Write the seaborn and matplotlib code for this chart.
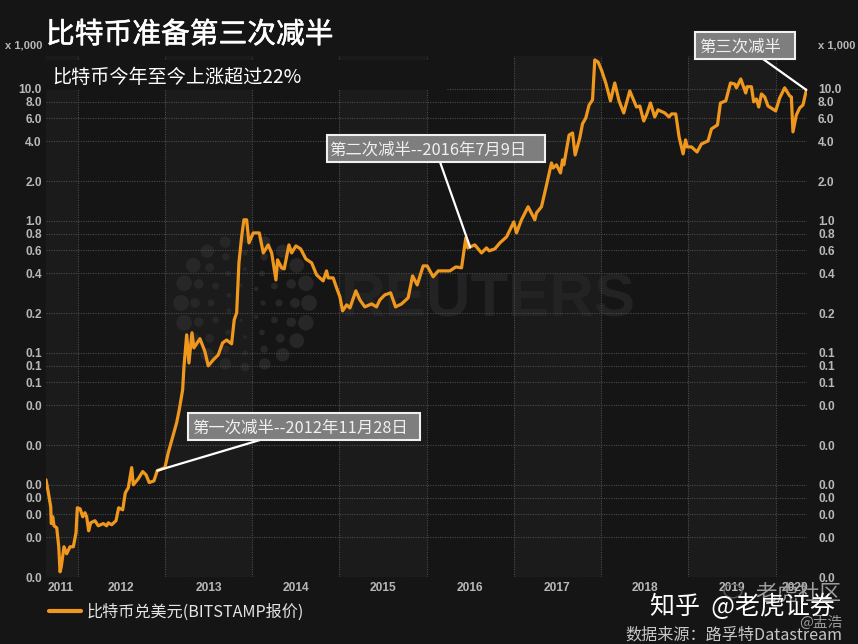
import numpy as np
import pandas as pd
import matplotlib
matplotlib.use("Agg")
import matplotlib.pyplot as plt
from matplotlib.patches import Rectangle, Circle
import matplotlib.patheffects as pe
import seaborn as sns

# Chart data: decimal year and BTC/USD price in thousands
years = [2011.639,2011.666,2011.693,2011.700,2011.716,2011.731,2011.762,2011.785,2011.800,2011.814,2011.845,2011.876,2011.914,2011.952,2011.983,2011.998,
2012.029,2012.060,2012.086,2012.105,2012.128,2012.151,2012.200,2012.238,2012.296,2012.334,2012.353,2012.392,2012.441,2012.472,2012.518,2012.548,2012.582,2012.621,2012.639,2012.696,2012.747,2012.785,2012.822,2012.876,2012.914,
2013.002,2013.040,2013.097,2013.136,2013.166,2013.205,2013.220,2013.251,2013.277,2013.312,2013.334,2013.403,2013.461,2013.498,2013.556,2013.613,2013.663,2013.709,2013.766,2013.796,2013.824,2013.850,2013.881,2013.907,2013.938,2013.965,
2014.014,2014.083,2014.129,2014.186,2014.225,2014.274,2014.293,2014.339,2014.369,2014.423,2014.454,2014.503,2014.557,2014.617,2014.683,2014.740,2014.815,2014.854,2014.873,2014.930,2014.969,
2015.007,2015.038,2015.084,2015.122,2015.190,2015.236,2015.293,2015.370,2015.427,2015.465,2015.522,2015.588,2015.645,2015.714,2015.789,2015.840,2015.893,2015.961,
2016.007,2016.076,2016.133,2016.267,2016.336,2016.401,2016.450,2016.473,2016.553,2016.630,2016.687,2016.717,2016.783,2016.840,2016.917,
2017.000,2017.031,2017.088,2017.164,2017.241,2017.260,2017.317,2017.375,2017.432,2017.450,2017.489,2017.535,2017.558,2017.573,2017.634,2017.673,2017.703,2017.756,2017.787,2017.825,2017.863,2017.902,2017.928,2017.966,
2018.005,2018.054,2018.108,2018.157,2018.206,2018.260,2018.329,2018.406,2018.444,2018.489,2018.520,2018.566,2018.615,2018.653,2018.730,2018.779,2018.807,2018.856,2018.894,2018.940,2018.968,2018.986,
2019.036,2019.100,2019.150,2019.226,2019.265,2019.334,2019.368,2019.429,2019.483,2019.532,2019.551,2019.601,2019.658,2019.673,2019.723,2019.749,2019.780,2019.807,2019.838,2019.875,2019.913,
2020.001,2020.047,2020.104,2020.162,2020.181,2020.199,2020.238,2020.276,2020.314,2020.353]
prices = [.0109,.0087,.00681,.00508,.00572,.00489,.00472,.00339,.00219,.00239,.00339,.00300,.00339,.00339,.00433,.00669,
.00658,.00572,.00614,.00572,.00448,.00515,.00534,.00489,.00508,.00489,.00515,.00498,.00534,.00669,.00646,.0087,.00949,.0135,.0100,.0111,.0126,.0119,.0104,.0107,.0128,
.0135,.0175,.0239,.0295,.0370,.0526,.0784,.137,.0838,.142,.109,.128,.102,.0797,.0885,.0966,.119,.125,.117,.178,.201,.481,.757,1.02,1.02,.681,
.811,.811,.572,.658,.572,.357,.507,.441,.433,.658,.572,.646,.614,.515,.481,.390,.351,.418,.370,.370,.311,
.266,.208,.231,.219,.295,.252,.223,.235,.223,.252,.275,.285,.223,.235,.261,.383,.327,.456,
.456,.377,.418,.418,.448,.441,.743,.624,.658,.572,.624,.593,.614,.681,.757,
.983,.811,1.02,1.28,1.02,1.15,1.28,1.87,2.75,2.52,2.66,2.31,2.90,2.66,4.48,4.64,3.16,4.25,5.44,6.03,7.56,8.26,16.6,16.0,
13.9,11.1,8.12,11.1,8.12,6.58,9.66,7.3,7.43,5.72,6.35,7.83,6.14,6.94,6.58,6.14,6.47,6.47,4.33,3.22,4.11,3.64,
3.64,3.33,3.83,4.04,4.98,5.34,7.83,8.12,11.1,10.9,10.2,11.9,9.32,10.4,10.4,7.98,8.4,7.3,9.17,8.7,7.43,
6.82,8.55,10.2,8.85,8.7,4.73,6.35,7.18,7.56,9.83]
ytick_values = [10,8,6,4,2,1,.8,.6,.4,.2,.1,.08,.06,.04,.02,.01,.008,.006,.004,.002]
ytick_labels = ["10.0","8.0","6.0","4.0","2.0","1.0","0.8","0.6","0.4","0.2","0.1","0.1","0.1","0.0","0.0","0.0","0.0","0.0","0.0","0.0"]
year_lines = [2012,2013,2014,2015,2016,2017,2018,2019,2020]
year_label_pos = [2011.811,2012.5,2013.5,2014.5,2015.5,2016.5,2017.5,2018.5,2019.5,2020.219]
year_labels = ["2011","2012","2013","2014","2015","2016","2017","2018","2019","2020"]
series_name = "比特币兑美元(BITSTAMP报价)"

BG = "#151515"; BAND = "#1b1b1b"; GRID = "#4c4c4c"; TICK = "#b8b8b8"; ORANGE = "#F0981E"
W, H = 858, 644

sns.set_theme(style="dark")
CJK = ["Noto Sans CJK SC", "DejaVu Sans"]
plt.rcParams["font.family"] = CJK
plt.rcParams["axes.unicode_minus"] = False

fig = plt.figure(figsize=(W/100, H/100), dpi=100, facecolor=BG)
def fx(p): return p / W
def fy(p): return 1 - p / H

ax = fig.add_axes([fx(46), fy(577), fx(807) - fx(46), fy(56) - fy(577)], facecolor=BG)
ax.set_yscale("log")

df = pd.DataFrame({"year": years, "price": prices})

# alternating year bands
for a, b in [(2011.639, 2012), (2013, 2014), (2015, 2016), (2017, 2018), (2019, 2020)]:
    ax.axvspan(a, b, color=BAND, lw=0, zorder=0)

# Reuters watermark (logo dots + word), under the grid and the line
cx, cy = 245, 303
px_list, py_list, sz_list = [], [], []
for r, n, base in [(18, 7, 14), (34, 12, 26), (50, 16, 50), (64, 20, 130)]:
    for i in range(n):
        t = 2 * np.pi * (i + 0.5 * (r % 4)) / n
        px_list.append(cx + r * np.cos(t)); py_list.append(cy + r * np.sin(t))
        sz_list.append(base * (0.3 + 0.7 * abs(np.cos(t))))
ax.scatter([fx(p) for p in px_list], [fy(p) for p in py_list], s=sz_list, color="#272727",
           lw=0, transform=fig.transFigure, zorder=1, clip_on=False)
ax.text(fx(488), fy(301), "REUTERS", color="#232323", fontsize=44.5, fontweight="bold",
        family="Liberation Sans", ha="center", va="center", zorder=1.2, transform=fig.transFigure)

sns.lineplot(data=df, x="year", y="price", ax=ax, color=ORANGE, linewidth=2.3,
             estimator=None, sort=False, label=series_name, zorder=4,
             solid_joinstyle="round", legend=False)

ax.set_xlim(2011.639, 2020.36)
ax.set_ylim(0.002, 17.78)
ax.set_xlabel(""); ax.set_ylabel("")
for s in ax.spines.values():
    s.set_visible(False)

ax.set_yticks(ytick_values)
ax.set_yticklabels(ytick_labels)
ax.yaxis.set_minor_locator(matplotlib.ticker.NullLocator())
ax.set_xticks(year_lines)
ax.set_xticklabels([""] * len(year_lines))
ax.set_xticks(year_label_pos, minor=True)
ax.set_xticklabels(year_labels, minor=True)
ax.grid(True, which="major", axis="both", color=GRID, lw=0.8, ls=(0, (1, 1.2)))
ax.set_axisbelow(False)
for ln in ax.get_xgridlines() + ax.get_ygridlines():
    ln.set_zorder(2)
lab = dict(colors=TICK, length=0, labelfontfamily="Liberation Sans", labelsize=8.6)
ax.tick_params(axis="y", which="major", pad=3, left=False, right=False, **lab)
ax.tick_params(axis="x", which="both", pad=3.5, bottom=False, **lab)

axr = ax.twinx()
axr.set_yscale("log")
axr.set_ylim(ax.get_ylim())
axr.set_yticks(ytick_values)
axr.set_yticklabels(ytick_labels)
axr.yaxis.set_minor_locator(matplotlib.ticker.NullLocator())
axr.grid(False)
axr.patch.set_visible(False)
for s in axr.spines.values():
    s.set_visible(False)
axr.tick_params(axis="y", which="major", pad=8, right=False, left=False, **lab)
for t in (ax.get_yticklabels() + ax.get_xticklabels(which="minor") + axr.get_yticklabels()):
    t.set_fontweight("bold")

for x, ha in [(42, "right"), (818, "left")]:
    fig.text(fx(x), fy(45), "x 1,000", color=TICK, fontsize=8, fontweight="bold",
             family="Liberation Sans", ha=ha, va="center")

# subtitle backing box hides the top of the bands and grid
fig.add_artist(Rectangle((fx(46), fy(90)), fx(401), fy(60) - fy(90), transform=fig.transFigure,
                         facecolor=BG, edgecolor="none", zorder=5))
fig.text(fx(46), fy(35), "比特币准备第三次减半", color="white", fontsize=20.7, ha="left", va="center", zorder=6,
         path_effects=[pe.withStroke(linewidth=0.4, foreground="white")])
fig.text(fx(52), fy(77), "比特币今年至今上涨超过22%", color="white", fontsize=13.75,
         ha="left", va="center", zorder=6)

# callouts
callouts = [
    ("第一次减半--2012年11月28日", 188, 413, 420, 440, 192, 260, 2012.914, 0.0128),
    ("第二次减半--2016年7月9日", 327, 135, 545, 162, 329, 440, 2016.50, 0.63),
    ("第三次减半", 695, 32, 795, 59, 699, 763, 2020.353, 9.83),
]
for txt, x0, y0, x1, y1, tx, lx, dx, dy in callouts:
    ax.annotate("", xy=(dx, dy), xycoords="data", xytext=(fx(lx), fy(y1)), textcoords="figure fraction",
                arrowprops=dict(arrowstyle="-", color="white", lw=1.6, shrinkA=0, shrinkB=0), zorder=6,
                annotation_clip=False)
    fig.add_artist(Rectangle((fx(x0), fy(y1)), fx(x1 - x0), fy(y0) - fy(y1), transform=fig.transFigure,
                             facecolor="#7e7e7e", edgecolor="#f0f0f0", lw=1.5, zorder=7))
    fig.text(fx(tx), fy((y0 + y1) / 2 + 1.5), txt, color="#f0f0f0", fontsize=11.8, ha="left", va="center", zorder=8)

# legend
handles, labels = ax.get_legend_handles_labels()
leg = ax.legend(handles, labels, loc="center left", bbox_to_anchor=(fx(49), fy(612.5)),
                bbox_transform=fig.transFigure, frameon=False, fontsize=11.6, labelcolor="#e4e4e4",
                handlelength=2.0, handletextpad=0.34, borderpad=0, borderaxespad=0)
leg.get_lines()[0].set_linewidth(3)

# source and site marks
fig.add_artist(Circle((fx(733), fy(591)), fx(9), transform=fig.transFigure, fill=False,
                      edgecolor="#5a5a5a", lw=1, zorder=9))
fig.text(fx(842), fy(635), "数据来源：路孚特Datastream", color="#c8c8c8", fontsize=11.6, ha="right", va="center")
fig.text(fx(755), fy(594), "老虎社区", color="#9c9c9c", fontsize=15.5, ha="left", va="center", zorder=9)
fig.text(fx(835), fy(607), "知乎  @老虎证券", color="white", fontsize=18, ha="right", va="center", zorder=10)
fig.text(fx(842), fy(623), "@盂浩", color="#9a9a9a", fontsize=10.5, ha="right", va="center", zorder=9)

fig.savefig("out.png", dpi=100, facecolor=BG)
